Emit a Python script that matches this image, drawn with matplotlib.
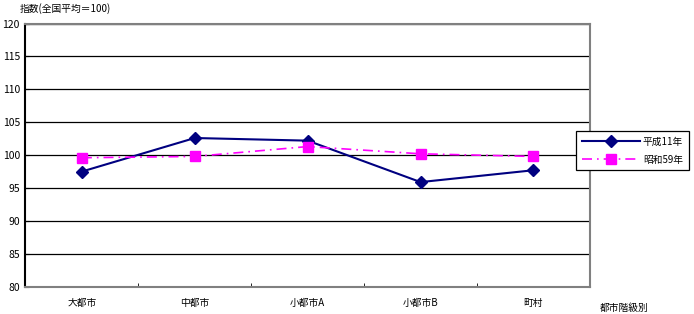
import matplotlib.pyplot as plt
import numpy as np

plt.rcParams['font.family'] = ['Noto Sans CJK JP', 'DejaVu Sans']
plt.rcParams['font.size'] = 7

categories = ['大都市', '中都市', '小都市A', '小都市B', '町村']
heisei11 = [97.5, 102.6, 102.2, 95.9, 97.7]
showa59 = [99.6, 99.8, 101.3, 100.2, 99.8]
yticks = [80, 85, 90, 95, 100, 105, 110, 115, 120]

fig = plt.figure(figsize=(6.94, 3.14), dpi=100)
ax = fig.add_axes([0.0366, 0.087, 0.8134, 0.838])

x = np.arange(len(categories))
ax.plot(x, heisei11, color='#000080', lw=1.5, marker='D', ms=6,
        label='平成11年')
ax.plot(x, showa59, color='#FF00FF', lw=1.2, ls=(0, (6, 3, 1, 3)),
        marker='s', ms=6.5, label='昭和59年')

ax.set_xlim(-0.5, len(categories) - 0.5)
ax.set_ylim(80, 120)
ax.set_yticks(yticks)
ax.yaxis.grid(True, color='black', lw=0.9)
ax.set_axisbelow(True)

ax.set_xticks(x)
ax.set_xticklabels(categories)
ax.set_xticks(np.arange(len(categories) + 1) - 0.5, minor=True)
ax.tick_params(axis='x', which='major', length=0, pad=8)
ax.tick_params(axis='x', which='minor', length=3, direction='in', color='black')
ax.tick_params(axis='y', length=3, direction='in', pad=4, labelsize=7.5)

for side in ['top', 'right', 'bottom']:
    ax.spines[side].set_color('#808080')
    ax.spines[side].set_linewidth(1.5)
ax.spines['left'].set_color('black')
ax.spines['left'].set_linewidth(1.5)

fig.text(0.029, 0.99, '指数(全国平均＝100)', ha='left', va='top', fontsize=7)
fig.text(0.865, 0.003, '都市階級別', ha='left', va='bottom', fontsize=7)

leg = ax.legend(loc='center left', bbox_to_anchor=(0.975, 0.517), frameon=True,
                fancybox=False, edgecolor='black', fontsize=7, framealpha=1,
                handlelength=6, handletextpad=0.3, borderpad=0.6,
                labelspacing=0.8, borderaxespad=0)
leg.get_frame().set_linewidth(0.9)

fig.savefig('out.png', dpi=100)
